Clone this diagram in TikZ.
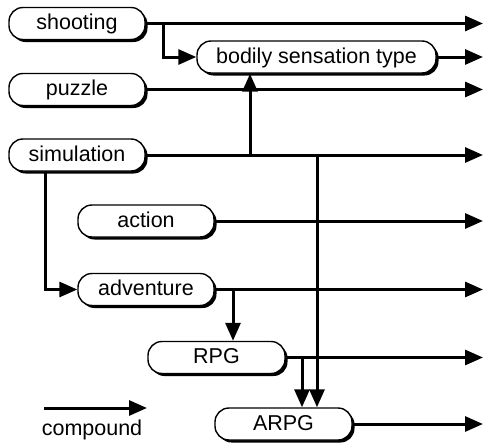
\documentclass[tikz,border=0pt]{standalone}
\usepackage{fontspec}
\setmainfont{Liberation Sans}
\usetikzlibrary{arrows.meta,shadows}
\begin{document}
\begin{tikzpicture}[x=1pt,y=-1pt,
  box/.style={draw=black, line width=1.4pt, fill=white, rounded corners=14pt,
    minimum height=32pt, inner sep=0pt, text height=16pt, text depth=3.5pt,
    font=\fontsize{21.5}{25}\selectfont,
    drop shadow={shadow xshift=2.5pt, shadow yshift=-2.5pt, opacity=1, fill=black}},
  link/.style={line width=3pt, -{Triangle[length=18pt,width=15pt]}},
  lbl/.style={font=\fontsize{21.5}{25}\selectfont, inner sep=0pt}
]
\useasboundingbox (0,0) rectangle (485,447);
% nodes
\node[box, minimum width=136pt] (shoot) at (77,23.5) {shooting};
\node[box, minimum width=239pt] (body) at (316.5,57) {bodily sensation type};
\node[box, minimum width=136pt] (puzzle) at (77,89.5) {puzzle};
\node[box, minimum width=136pt] (sim) at (77,155) {simulation};
\node[box, minimum width=136pt] (action) at (146,221) {action};
\node[box, minimum width=136pt] (adv) at (146,289.5) {adventure};
\node[box, minimum width=137pt] (rpg) at (216.5,357.5) {RPG};
\node[box, minimum width=137pt] (arpg) at (283.5,424) {ARPG};
% free ends
\coordinate (r1) at (483,23.5);
\coordinate (r2) at (483,57);
\coordinate (r3) at (483,89.5);
\coordinate (r4) at (483,155);
\coordinate (r5) at (483,221);
\coordinate (r6) at (483,289.5);
\coordinate (r7) at (483,357.5);
\coordinate (r8) at (483,424);
\coordinate (sb) at (163,23.5);
\coordinate (su) at (250,155);
\coordinate (sdx) at (45,155);
\coordinate (ab) at (233,289.5);
\coordinate (sv) at (317,155);
\coordinate (rb) at (302,357.5);
% connectors
\draw[link] (shoot) -- (r1);
\draw[link] (body) -- (r2);
\draw[link] (puzzle) -- (r3);
\draw[link] (sim) -- (r4);
\draw[link] (action) -- (r5);
\draw[link] (adv) -- (r6);
\draw[link] (rpg) -- (r7);
\draw[link] (arpg) -- (r8);
\draw[link] (sb) |- (body.west);
\draw[link] (su) -- (su |- body.south);
\draw[link] (sim.south -| sdx) |- (adv.west);
\draw[link] (ab) -- (ab |- rpg.north);
\draw[link] (sv) -- (sv |- arpg.north);
\draw[link] (rb) -- (rb |- arpg.north);
% legend
\coordinate (l1) at (44,408);
\coordinate (l2) at (147,408);
\draw[link] (l1) -- (l2);
\node[lbl] (comp) at (92,430) {compound};
\end{tikzpicture}
\end{document}
